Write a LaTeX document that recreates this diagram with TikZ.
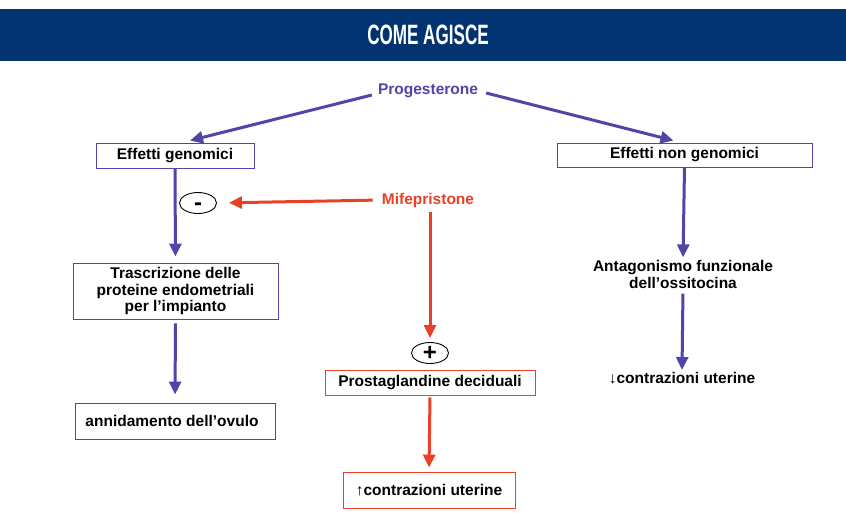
\documentclass[tikz,border=0pt]{standalone}
\usepackage{fontspec}
\setmainfont{Liberation Sans}
\usetikzlibrary{arrows.meta,shapes.geometric}
\definecolor{hdrblue}{HTML}{003370}
\definecolor{pblue}{HTML}{5046A8}
\definecolor{pred}{HTML}{EA4126}
\tikzset{
  lbl/.style={font=\fontsize{15.5}{17.5}\selectfont\bfseries, text=black, align=center, inner sep=0pt},
  bbox/.style={lbl, draw=pblue, line width=0.9pt},
  rbox/.style={lbl, draw=pred, line width=0.9pt},
  parrow/.style={draw=pblue, line width=3pt, -{Triangle[length=13pt,width=12pt]}},
  rarrow/.style={draw=pred, line width=3pt, -{Triangle[length=13pt,width=12pt]}},
  sign/.style={draw=black, line width=0.9pt, ellipse, minimum width=37pt, minimum height=21pt, inner sep=0pt, font=\fontsize{24}{24}\selectfont\bfseries}
}
\begin{document}
\begin{tikzpicture}[x=1pt,y=-1pt]
\useasboundingbox (0,0) rectangle (846,531);
\fill[white] (0,0) rectangle (846,531);
% header
\fill[hdrblue] (0,9) rectangle (846,61);
\node[text=white, inner sep=0pt, font=\fontsize{28}{30}\selectfont\bfseries] (title) at (428,35) {\scalebox{0.61}[1]{COME AGISCE}};
% nodes
\node[lbl, text=pblue] (prog) at (428,91) {Progesterone};
\node[bbox, minimum width=158pt, minimum height=25pt] (eg) at (175,155.5) {Effetti genomici};
\node[bbox, minimum width=255pt, minimum height=24pt] (neg) at (684.5,155) {Effetti non genomici};
\node[lbl, text=pred] (mife) at (428,200) {Mifepristone};
\node[sign] (minus) at (198,203) {\vphantom{+}-};
\node[bbox, minimum width=205pt, minimum height=56pt] (tr) at (175.5,291) {Trascrizione delle\\[-1pt] proteine endometriali\\[-1pt] per l’impianto};
\node[bbox, minimum width=200pt, minimum height=36pt] (ann) at (175,421) {annidamento dell’ovulo\hspace{6pt}};
\node[sign] (plus) at (430,353) {+};
\node[rbox, minimum width=210pt, minimum height=25pt] (pros) at (430,382.5) {Prostaglandine deciduali};
\node[rbox, minimum width=172pt, minimum height=36pt] (up) at (429,490) {↑contrazioni uterine};
\node[lbl] (ant) at (683,274.5) {Antagonismo funzionale\\[-1pt] dell’ossitocina};
\node[lbl] (down) at (682,378) {↓contrazioni uterine};
% arrows
\draw[parrow] ([shift={(-6,4)}]prog.west) -- ([shift={(15,-2)}]eg.north);
\draw[parrow] ([shift={(8,2)}]prog.east) -- ([shift={(-11,-2)}]neg.north);
\draw[parrow, shorten >=6pt] (eg.south) -- (tr.north);
\draw[parrow, shorten <=4pt, shorten >=8pt] (tr.south) -- (ann.north);
\draw[parrow, shorten >=3pt] (neg.south) -- (ant.north);
\draw[parrow, shorten <=5pt, shorten >=2pt] (ant.south) -- (down.north);
\draw[rarrow, shorten <=9pt, shorten >=12pt] (mife.west) -- (minus.east);
\draw[rarrow, shorten <=5pt, shorten >=4pt] ([xshift=2pt]mife.south) -- (plus.north);
\draw[rarrow, shorten <=2pt, shorten >=4pt] (pros.south) -- (up.north);
\end{tikzpicture}
\end{document}
